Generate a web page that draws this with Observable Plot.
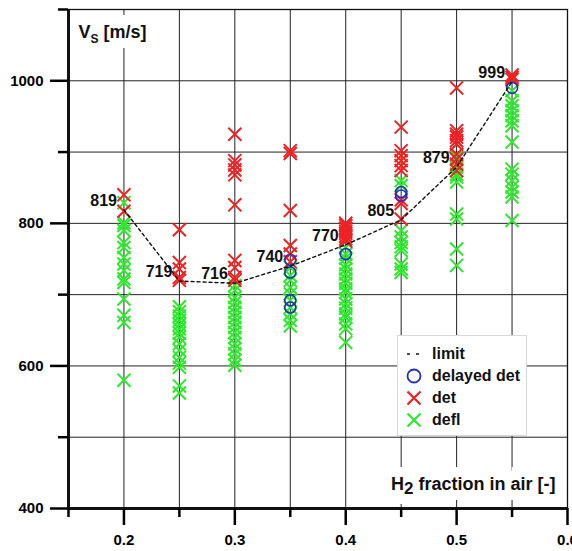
<!DOCTYPE html>
<html>
<head>
<meta charset="utf-8">
<script src="https://cdn.jsdelivr.net/npm/d3@7"></script>
<script src="https://cdn.jsdelivr.net/npm/@observablehq/plot@0.6"></script>
<style>
  html, body { margin: 0; padding: 0; background: white; }
  #wrap { position: relative; width: 572px; height: 551px; overflow: hidden; font-family: "Liberation Sans", Arial, sans-serif; }
  #legend { position: absolute; left: 397px; top: 335px; width: 130px; height: 101px; background: white; border: 1px solid #d8d8d8; box-sizing: border-box; }
  #legend .row { position: absolute; left: 0; height: 22px; display: flex; align-items: center; font-weight: bold; font-size: 16px; color: #111; }
  #legend svg { width: 34px; height: 22px; }
</style>
</head>
<body>
<div id="wrap"></div>
<script>
// ---- data ----
const xCols = [0.2, 0.25, 0.3, 0.35, 0.4, 0.45, 0.5, 0.55];
const limitVs = [819, 719, 716, 740, 770, 805, 879, 999];

const defl020 = [829, 801, 797, 790, 773, 766, 752, 743, 734, 722, 717, 694, 671, 661, 580];
const defl025 = [683, 676, 670, 664, 658, 652, 646, 640, 631, 622, 612, 604, 598, 572, 562];
const defl030 = [713, 706, 696, 689, 682, 675, 668, 661, 654, 647, 640, 631, 624, 617, 608, 601];
const defl035 = [738, 727, 720, 710, 701, 692, 682, 673, 664, 656];
const defl040 = [766, 757, 751, 742, 736, 729, 722, 716, 708, 703, 694, 687, 681, 673, 668, 659, 652, 633];
const defl045 = [860, 853, 790, 781, 773, 767, 762, 743, 736, 731];
const defl050 = [893, 879, 869, 865, 858, 813, 806, 764, 741];
const defl055 = [986, 972, 965, 958, 951, 944, 937, 914, 876, 869, 860, 851, 844, 837, 804];

const det020 = [840, 817];
const det025 = [791, 745, 736, 724, 720];
const det030 = [925, 888, 882, 875, 868, 826, 748, 738, 724, 720];
const det035 = [902, 898, 818, 769, 757, 746];
const det040 = [800, 797, 793, 789, 786, 782, 778, 775];
const det045 = [935, 902, 895, 888, 881, 874, 833, 828, 806];
const det050 = [990, 930, 925, 921, 916, 911, 897, 890, 883, 874];
const det055 = [1008, 1005, 1002];

const delayed035 = [749, 731, 692, 682];
const delayed040 = [757];
const delayed045 = [844, 839];
const delayed055 = [990];

const yMajorTicks = [400, 600, 800, 1000];
const yMinorTicks = [500, 700, 900, 1100];
const yGridLines = [500, 600, 700, 800, 900, 1000];
const xMajorTicks = [0.2, 0.3, 0.4, 0.5, 0.6];
const xMinorTicks = [0.15, 0.25, 0.35, 0.45, 0.55];
const xGridLines = [0.2, 0.25, 0.3, 0.35, 0.4, 0.45, 0.5, 0.55];

const yTitle = "VS [m/s]";
const xTitle = "H2 fraction in air [-]";
const legendLabels = ["limit", "delayed det", "det", "defl"];

const colDefl = "#2ee82e", colDet = "#ee2222", colDelayed = "#2233b8";

// ---- build tables ----
const pairs = (x, vs) => vs.map(v => ({x, v}));
const defl = [].concat(
  pairs(0.2, defl020), pairs(0.25, defl025), pairs(0.3, defl030), pairs(0.35, defl035),
  pairs(0.4, defl040), pairs(0.45, defl045), pairs(0.5, defl050), pairs(0.55, defl055));
const det = [].concat(
  pairs(0.2, det020), pairs(0.25, det025), pairs(0.3, det030), pairs(0.35, det035),
  pairs(0.4, det040), pairs(0.45, det045), pairs(0.5, det050), pairs(0.55, det055));
const delayed = [].concat(
  pairs(0.35, delayed035), pairs(0.4, delayed040), pairs(0.45, delayed045), pairs(0.55, delayed055));
const limit = xCols.map((x, i) => ({x, v: limitVs[i]}));

const font = "Liberation Sans, Arial, sans-serif";
const yTitleOpts = {frameAnchor: "top-left", dx: 10, dy: 23, textAnchor: "start", lineAnchor: "middle", fontSize: 18, fontWeight: "bold"};
const xTitleOpts = {frameAnchor: "bottom-right", dx: -12, dy: -24, textAnchor: "end", lineAnchor: "middle", fontSize: 18, fontWeight: "bold"};

const chart = Plot.plot({
  width: 572, height: 551,
  marginLeft: 68, marginRight: 5, marginTop: 9, marginBottom: 43,
  x: {domain: [0.15, 0.6], label: null},
  y: {domain: [400, 1100], label: null},
  style: {fontFamily: font, fontSize: "15px", fontWeight: "bold", color: "black", background: "white"},
  marks: [
    Plot.gridY(yGridLines, {stroke: "#222", strokeOpacity: 1, strokeWidth: 1}),
    Plot.gridX(xGridLines, {stroke: "#222", strokeOpacity: 1, strokeWidth: 1}),
    // white backgrounds behind the titles
    Plot.text([yTitle], {...yTitleOpts, fill: "white", stroke: "white", strokeWidth: 20, strokeLinejoin: "miter"}),
    Plot.text([xTitle], {...xTitleOpts, fill: "white", stroke: "white", strokeWidth: 20, strokeLinejoin: "miter"}),
    Plot.text([yTitle], {...yTitleOpts, fill: "#111"}),
    Plot.text([xTitle], {...xTitleOpts, fill: "#111"}),
    Plot.frame({stroke: "#111", strokeWidth: 1.3}),
    Plot.ruleX([0.15], {stroke: "#111", strokeWidth: 3}),
    Plot.ruleY([400], {stroke: "#111", strokeWidth: 3}),
    Plot.axisY(yMajorTicks, {tickSize: 18, tickPadding: 7, strokeWidth: 2.5, fontSize: 15, fontWeight: "bold",
      tickFormat: d => String(d), label: null}),
    Plot.axisY(yMinorTicks, {tickSize: 10, strokeWidth: 2.5, tickFormat: () => "", label: null}),
    Plot.axisX(xMajorTicks, {tickSize: 17, tickPadding: 9, strokeWidth: 2.5, fontSize: 15, fontWeight: "bold",
      tickFormat: d => d3.format(".1f")(d), label: null}),
    Plot.axisX(xMinorTicks, {tickSize: 9, strokeWidth: 2.5, tickFormat: () => "", label: null}),
    Plot.dot(defl, {x: "x", y: "v", symbol: "times", r: 6, stroke: colDefl, strokeWidth: 2}),
    Plot.dot(det, {x: "x", y: "v", symbol: "times", r: 6, stroke: colDet, strokeWidth: 2}),
    Plot.dot(delayed, {x: "x", y: "v", r: 5.5, stroke: colDelayed, strokeWidth: 1.6, fill: "none"}),
    Plot.line(limit, {x: "x", y: "v", stroke: "#111", strokeWidth: 1.4, strokeDasharray: "3,3"}),
    Plot.text(limit, {x: "x", y: "v", text: d => String(d.v), dx: -7, dy: -9, textAnchor: "end",
      fontSize: 16, fontWeight: "bold", fill: "#111"})
  ]
});

// subscripts in titles
d3.select(chart).selectAll("text").each(function() {
  const t = this.textContent;
  if (t === yTitle) {
    const s = d3.select(this); s.text("");
    s.append("tspan").text("V");
    s.append("tspan").attr("dy", 5).attr("font-size", 12).text("S");
    s.append("tspan").attr("dy", -5).text(" [m/s]");
  } else if (t === xTitle) {
    const s = d3.select(this); s.text("");
    s.append("tspan").text("H");
    s.append("tspan").attr("dy", 4).attr("font-size", 17).text("2");
    s.append("tspan").attr("dy", -4).text(" fraction in air [-]");
  }
});

const wrap = document.getElementById("wrap");
wrap.appendChild(chart);

// legend overlay
const legend = document.createElement("div");
legend.id = "legend";
wrap.appendChild(legend);
const symbols = [
  g => g.append("line").attr("x1", 9).attr("x2", 25).attr("y1", 11).attr("y2", 11)
        .attr("stroke", "#111").attr("stroke-width", 1.6).attr("stroke-dasharray", "3,6"),
  g => g.append("circle").attr("cx", 16).attr("cy", 11).attr("r", 6.5)
        .attr("fill", "none").attr("stroke", colDelayed).attr("stroke-width", 1.8),
  g => g.append("path").attr("d", "M9.5,4.5L22.5,17.5M22.5,4.5L9.5,17.5").attr("stroke", colDet).attr("stroke-width", 2.2),
  g => g.append("path").attr("d", "M9.5,4.5L22.5,17.5M22.5,4.5L9.5,17.5").attr("stroke", colDefl).attr("stroke-width", 2.2)
];
legendLabels.forEach((lab, i) => {
  const row = d3.select(legend).append("div").attr("class", "row").style("top", (7 + i * 22) + "px");
  const svg = row.append("svg");
  symbols[i](svg);
  row.append("span").text(lab);
});
</script>
</body>
</html>
